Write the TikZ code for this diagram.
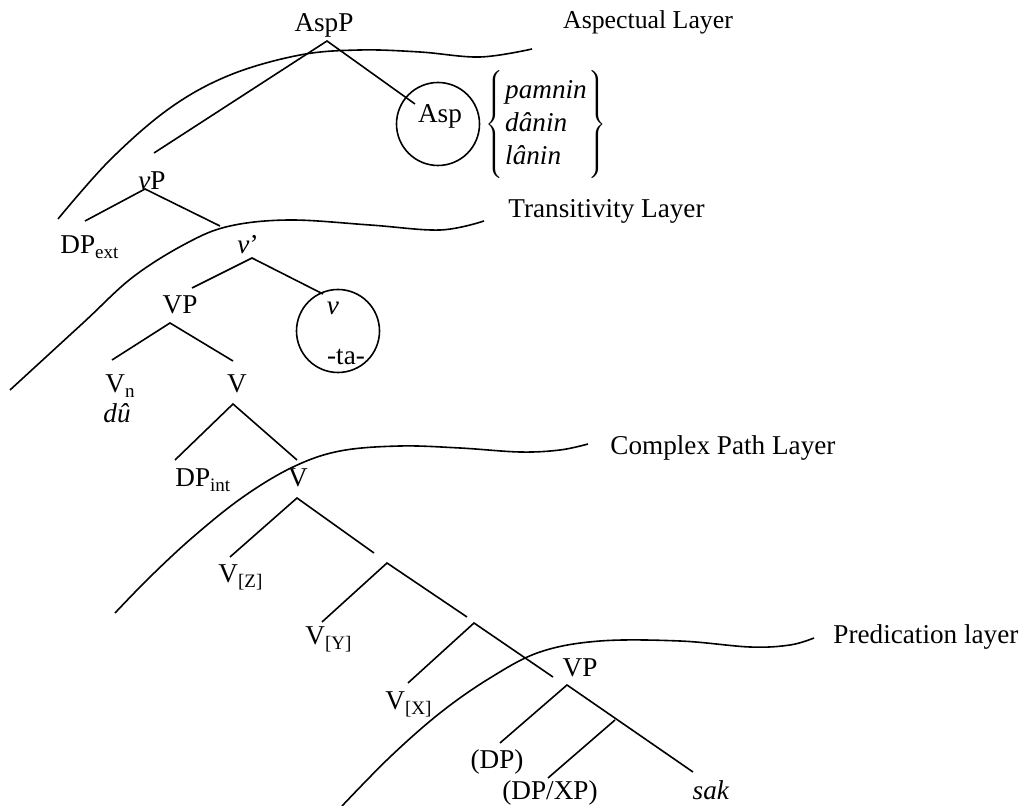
\documentclass[tikz,border=0pt]{standalone}
\usepackage{fontspec}
\setmainfont{Liberation Serif}

\begin{document}
\begin{tikzpicture}[x=0.5pt,y=-0.5pt,
  lab/.style={inner sep=0pt,font=\fontsize{13.6}{16.5}\selectfont},
  layer/.style={line width=0.8pt},
  br/.style={line width=0.8pt},
  ring/.style={draw,circle,line width=0.8pt,minimum size=41.5pt,inner sep=0pt}]
\useasboundingbox (0,0) rectangle (1023,806);
% layer boundaries
\draw[layer] plot[smooth,tension=0.6] coordinates {(58,219) (110,160) (170,108) (230,75) (300,55) (360,50) (420,52) (480,57) (532,49)};
\draw[layer] plot[smooth,tension=0.6] coordinates {(10,390) (83,323) (133,277) (187,243) (230,226) (290,220) (370,225) (440,230) (484,221)};
\draw[layer] plot[smooth,tension=0.6] coordinates {(115,613) (150,577) (193,537) (243,497) (293,467) (340,451) (400,446) (460,448) (520,452) (560,450) (588,444)};
\draw[layer] plot[smooth,tension=0.6] coordinates {(342,806) (390,757) (440,713) (490,678) (540,652) (600,641) (680,641) (750,647) (790,645) (814,638)};
\node[lab,anchor=base,font=\fontsize{12.9}{15}\selectfont] (lAsp) at (648,29) {Aspectual Layer};
\node[lab,anchor=base west] (lTrans) at (508,218) {Transitivity Layer};
\node[lab,anchor=base west] (lPath) at (610,455) {Complex Path Layer};
\node[lab,anchor=base west] (lPred) at (833,644) {Predication layer};
% branches
\foreach \n/\a/\l/\r in {AspP/{327,41}/{154,153}/{415,104},
                         vP/{145,189}/{85,221}/{220,226},
                         vbar/{252,258}/{192,288}/{323,294},
                         VPa/{170,323}/{112,360}/{233,361},
                         Va/{233,404}/{175,460}/{297,460},
                         Vb/{297,498}/{230,557}/{374,553},
                         Vc/{387,563}/{322,622}/{467,617},
                         Vd/{474,623}/{408,683}/{553,677},
                         VPb/{567,685}/{500,743}/{693,772}} {
  \coordinate (j\n) at (\a);
  \coordinate (j\n-l) at (\l);
  \coordinate (j\n-r) at (\r);
  \draw[br] (j\n-l) -- (j\n) -- (j\n-r);
}
\coordinate (jVe) at (615,720); \coordinate (jVe-l) at (548,778);
\draw[br] (jVe) -- (jVe-l);
% heads
\node[ring] (aspC) at (438,124) {};
\node[lab,anchor=base] (Asp) at (440,123) {Asp};
\node[lab] (forms) at (546,125) {$\left\{\rule[-23pt]{0pt}{53pt}\kern1pt\begin{tabular}{@{}l@{}}\textit{pamnin}\\ \textit{dânin}\\ \textit{lânin}\end{tabular}\kern1pt\right\}$};
\node[ring] (vC) at (338,331) {};
\node[lab,anchor=base] (vhead) at (333,315) {\textit{v}};
\node[lab,anchor=base] (ta) at (346,365) {-ta-};
% labels
\node[lab,anchor=base] (AspP) at (324,32) {AspP};
\node[lab,anchor=base] (vP) at (152,190) {\textit{v}P};
\node[lab,anchor=base west] (DPext) at (60,254) {DP\textsubscript{ext}};
\node[lab,anchor=base] (vbar) at (248,254) {\textit{v}’};
\node[lab,anchor=base] (VPa) at (180,314) {VP};
\node[lab,anchor=base west] (Vn) at (105,393) {V\textsubscript{n}};
\node[lab,anchor=base] (du) at (117,423) {\textit{dû}};
\node[lab,anchor=base] (Va) at (237,393) {V};
\node[lab,anchor=base west] (DPint) at (175,487) {DP\textsubscript{int}};
\node[lab,anchor=base] (Vb) at (298,487) {V};
\node[lab,anchor=base west] (VZ) at (218,583) {V\textsubscript{[Z]}};
\node[lab,anchor=base west] (VY) at (305,645) {V\textsubscript{[Y]}};
\node[lab,anchor=base west] (VX) at (385,710) {V\textsubscript{[X]}};
\node[lab,anchor=base] (VPb) at (580,677) {VP};
\node[lab,anchor=base] (DP) at (497,769) {(DP)};
\node[lab,anchor=base] (DPXP) at (550,799) {(DP/XP)};
\node[lab,anchor=base] (sak) at (711,799) {\textit{sak}};
\end{tikzpicture}
\end{document}
